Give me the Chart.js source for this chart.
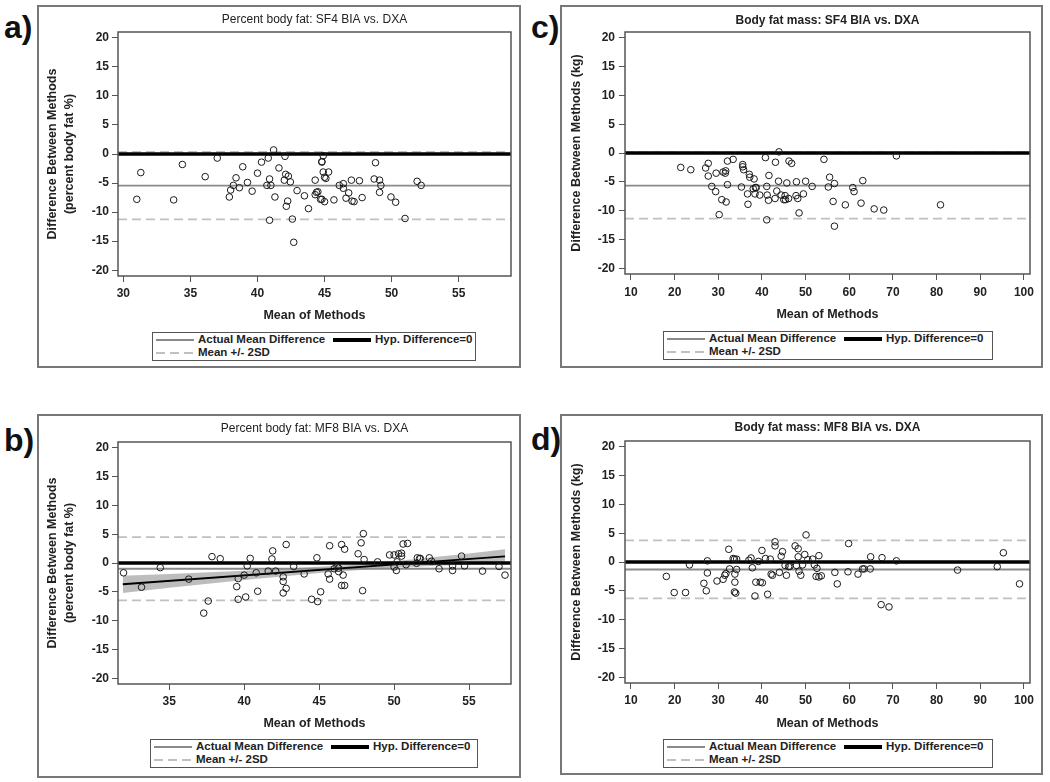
<!DOCTYPE html>
<html>
<head>
<meta charset="utf-8">
<script src="https://cdn.jsdelivr.net/npm/chart.js@4.4.1/dist/chart.umd.min.js"></script>
<style>
  body { margin: 0; background: #fff; }
  #page { position: relative; width: 1050px; height: 782px; overflow: hidden; background: #fff; }
  .frame { position: absolute; border: 2px solid #777; box-sizing: border-box; }
  .tag { position: absolute; font: bold 32px/32px "Liberation Sans Narrow", "Liberation Sans", Arial, sans-serif; color: #111; }
  canvas { position: absolute; }
  .legend { position: absolute; border: 1.5px solid #555; box-sizing: border-box; height: 29px;
            font: bold 11.5px "Liberation Sans", Arial, sans-serif; color: #222; }
  .legend .s { position: absolute; width: 38px; }
  .legend .t { position: absolute; line-height: 13px; white-space: nowrap; }
  .s.mean { height: 2px; background: #8a8a8a; }
  .s.zero { height: 3.5px; background: #000; }
  .s.sd { height: 2px; background: repeating-linear-gradient(to right, #c0c0c0 0 9px, transparent 9px 14px); }
</style>
</head>
<body>
<div id="page">
  <div class="frame" style="left:37px;top:5px;width:484px;height:363px;"></div>
  <div class="frame" style="left:37px;top:414px;width:484px;height:364px;"></div>
  <div class="frame" style="left:560px;top:5px;width:483px;height:363px;"></div>
  <div class="frame" style="left:560px;top:414px;width:483px;height:361px;"></div>

  <div class="tag" style="left:4px;top:11px;">a)</div>
  <div class="tag" style="left:4px;top:424px;">b)</div>
  <div class="tag" style="left:531px;top:11px;">c)</div>
  <div class="tag" style="left:531px;top:423px;">d)</div>

  <canvas id="chartA" width="480" height="320" style="left:39px;top:7px;"></canvas>
  <canvas id="chartB" width="480" height="320" style="left:39px;top:416px;"></canvas>
  <canvas id="chartC" width="479" height="320" style="left:562px;top:7px;"></canvas>
  <canvas id="chartD" width="479" height="320" style="left:562px;top:416px;"></canvas>
</div>

<script>
// ---- data ----
// a) Percent body fat: SF4 BIA vs. DXA
const pbfSf4Mean = [31.0, 31.3, 33.75, 34.4, 36.1, 37.0, 37.9, 38.0, 38.2, 38.4,
  38.65, 38.9, 39.25, 39.6, 40.0, 40.3, 40.7, 40.8, 40.9, 40.9,
  41.0, 41.2, 41.3, 41.6, 42.0, 42.05, 42.1, 42.15, 42.25, 42.3,
  42.45, 42.6, 42.7, 42.95, 43.5, 43.8, 44.3, 44.3, 44.4, 44.5,
  44.7, 44.8, 44.8, 44.9, 44.8, 44.9, 45.0, 45.0, 45.1, 45.3,
  45.7, 46.1, 46.4, 46.4, 46.6, 46.8, 47.0, 47.05, 47.2, 47.6,
  47.8, 48.7, 48.8, 49.1, 49.2, 49.1, 49.95, 50.3, 51.0, 51.9, 52.2];
const pbfSf4Diff = [-7.8, -3.2, -7.9, -1.8, -3.9, -0.7, -7.4, -6.2, -5.4, -4.1,
  -5.8, -2.2, -4.9, -6.4, -3.3, -1.4, -5.4, -0.7, -11.4, -4.3,
  -5.4, 0.7, -7.4, -2.4, -4.5, -0.4, -3.5, -9.0, -8.1, -3.8,
  -4.8, -11.2, -15.2, -6.3, -7.2, -9.4, -4.5, -7.0, -6.6, -6.5,
  -7.8, -1.4, -1.3, -0.3, -7.8, -3.1, -8.2, -4.0, -4.2, -3.1,
  -7.9, -5.4, -5.1, -5.9, -7.6, -6.7, -4.5, -8.1, -8.2, -4.6,
  -7.5, -4.3, -1.5, -4.5, -5.4, -6.6, -7.4, -8.3, -11.1, -4.7, -5.4];
const pbfSf4Limits = [-5.45, 0.35, -11.25]; // mean, +2SD, -2SD

// b) Percent body fat: MF8 BIA vs. DXA
const pbfMf8Mean = [31.95, 33.15, 34.4, 36.3, 37.3, 37.6, 37.85, 38.4, 39.5, 39.6,
  39.6, 40.0, 40.1, 40.2, 40.4, 40.8, 40.9, 41.6, 41.85, 41.9,
  42.1, 42.6, 42.6, 42.6, 42.8, 42.8, 43.3, 44.0, 44.5, 44.85,
  44.9, 45.1, 45.6, 45.7, 45.7, 46.0, 46.2, 46.3, 46.3, 46.5,
  46.5, 46.6, 46.7, 46.7, 47.6, 47.8, 47.9, 47.95, 48.0, 48.9,
  49.7, 50.0, 50.0, 50.15, 50.2, 50.3, 50.5, 50.5, 50.6, 50.9,
  50.8, 51.5, 51.55, 51.7, 51.75, 52.35, 52.5, 53.0, 53.9, 53.9,
  54.5, 54.7, 55.9, 57.0, 57.4];
const pbfMf8Diff = [-1.7, -4.2, -0.8, -2.8, -8.7, -6.6, 1.1, 0.75, -4.1, -2.7,
  -6.3, -2.1, -5.9, -0.5, 0.8, -1.7, -4.9, -1.4, 0.7, 2.1,
  -1.4, -2.4, -3.2, -5.2, -4.4, 3.2, -0.6, -1.9, -6.3, 0.9,
  -6.7, -5.0, -1.9, -2.8, 3.0, -1.0, -0.6, -0.9, -1.5, 3.2,
  -3.9, -2.1, 2.4, -3.9, 1.6, 3.5, -4.8, 5.1, 0.6, 0.2,
  1.4, 1.4, -0.7, -1.3, 0.2, 1.6, 1.7, 1.2, 3.3, 3.4,
  -0.3, -0.05, 0.9, 0.75, 0.8, 0.9, 0.3, -1.0, -1.3, -0.5,
  1.2, -0.5, -1.4, -0.6, -2.1];
const pbfMf8Limits = [-1.0, 4.5, -6.5];
// regression line and its confidence band (panel b only)
const pbfMf8FitX = [31.9, 57.4];
const pbfMf8FitY = [-3.7, 1.15];
const pbfMf8BandX = [31.9, 35, 40, 45, 47.5, 50, 55, 57.4];
const pbfMf8BandUpper = [-2.2, -1.9, -1.35, -0.65, -0.25, 0.3, 1.65, 2.4];
const pbfMf8BandLower = [-5.2, -4.3, -2.95, -1.75, -1.25, -0.8, -0.25, -0.1];

// c) Body fat mass: SF4 BIA vs. DXA
const fmSf4Mean = [21.4, 23.7, 27.1, 27.7, 27.7, 28.5, 29.4, 29.5, 30.2, 30.8,
  31.1, 31.7, 31.6, 31.8, 32.1, 32.1, 33.4, 35.3, 35.6, 35.6,
  35.8, 36.7, 36.8, 37.1, 37.2, 38.0, 38.2, 38.4, 38.5, 38.7,
  39.5, 40.8, 41.1, 41.2, 41.1, 41.5, 41.6, 43.1, 43.0, 43.4,
  43.8, 43.9, 44.4, 45.0, 45.3, 45.4, 45.7, 46.1, 46.2, 46.8,
  47.8, 47.9, 48.2, 48.5, 49.5, 50.0, 51.5, 54.2, 55.2, 55.5,
  56.3, 56.6, 56.6, 59.1, 60.8, 61.1, 62.7, 63.1, 65.7, 67.9, 70.8, 80.9];
const fmSf4Diff = [-2.5, -2.9, -2.6, -1.8, -4.0, -5.8, -6.7, -3.5, -10.7, -8.1,
  -3.3, -3.1, -3.5, -8.5, -5.5, -1.4, -1.1, -5.9, -2.0, -2.4,
  -2.9, -7.1, -8.9, -3.7, -4.2, -6.2, -4.5, -7.1, -6.0, -6.0,
  -7.3, -0.8, -5.8, -7.3, -11.6, -8.2, -3.9, -1.6, -7.9, -6.6,
  -4.9, 0.2, -7.3, -8.1, -7.4, -8.1, -5.2, -7.9, -1.4, -1.8,
  -7.4, -5.0, -7.9, -10.4, -7.1, -4.9, -5.8, -1.1, -5.9, -4.2,
  -8.4, -5.3, -12.7, -9.0, -6.0, -6.7, -8.7, -4.8, -9.7, -9.9, -0.5, -9.0];
const fmSf4Limits = [-5.65, 0.1, -11.4];

// d) Body fat mass: MF8 BIA vs. DXA
const fmMf8Mean = [18.1, 19.9, 22.5, 23.4, 26.7, 27.25, 27.5, 27.5, 29.7, 31.1,
  31.5, 31.75, 32.4, 32.6, 33.4, 33.7, 33.7, 33.8, 33.8, 34.0,
  34.2, 34.2, 37.0, 37.5, 37.8, 38.4, 38.6, 39.2, 39.6, 40.1,
  40.0, 40.8, 41.3, 41.9, 42.1, 42.4, 43.0, 43.0, 44.0, 44.4,
  44.7, 45.3, 45.6, 46.1, 46.4, 47.6, 47.9, 48.3, 48.3, 48.5,
  48.9, 49.3, 49.8, 50.1, 50.5, 51.6, 52.0, 52.4, 52.6, 53.05,
  53.05, 53.6, 56.7, 57.25, 59.7, 59.85, 62.0, 63.05, 63.4, 64.8,
  64.9, 67.5, 67.3, 69.1, 70.8, 84.8, 93.9, 95.3, 99.0];
const fmMf8Diff = [-2.5, -5.3, -5.3, -0.5, -3.7, -5.0, 0.2, -1.9, -3.3, -3.0,
  -2.3, -2.0, 2.2, -1.2, 0.6, 0.5, -5.2, -2.1, -3.5, -5.4,
  0.5, -1.3, 0.3, 0.7, -1.0, -5.9, -3.5, 0.1, -3.5, -3.6,
  2.0, 0.6, -5.6, 0.5, -2.1, -2.3, 2.8, 3.5, -1.8, 1.0,
  1.8, -0.6, -2.3, -0.8, -0.75, 2.8, -0.6, 2.3, 0.9, -1.6,
  -2.3, -0.5, 1.3, 4.7, 0.4, 0.5, -0.5, -2.5, -1.1, 1.1,
  -2.6, -2.4, -1.8, -3.8, -1.7, 3.2, -2.1, -1.2, -1.2, -1.2,
  0.9, 0.75, -7.4, -7.8, 0.2, -1.4, -0.8, 1.6, -3.8];
const fmMf8Limits = [-1.3, 3.76, -6.3];

const hypDifference = 0;
const yTicks = [-20, -15, -10, -5, 0, 5, 10, 15, 20];
const pbfSf4XTicks = [30, 35, 40, 45, 50, 55];
const pbfMf8XTicks = [35, 40, 45, 50, 55];
const fmXTicks = [10, 20, 30, 40, 50, 60, 70, 80, 90, 100];

const legendLabels = ['Actual Mean Difference', 'Hyp. Difference=0', 'Mean +/- 2SD'];
const xTitle = 'Mean of Methods';
const yTitlePbf = ['Difference Between Methods', '(percent body fat %)'];
const yTitleFm = 'Difference Between Methods (kg)';

// ---- drawing ----
const FONT = '"Liberation Sans", Arial, sans-serif';

const plotFrame = {
  id: 'plotFrame',
  afterDatasetsDraw(chart) {
    const a = chart.chartArea;
    const ctx = chart.ctx;
    ctx.save();
    ctx.strokeStyle = '#555';
    ctx.lineWidth = 1.5;
    ctx.strokeRect(a.left, a.top, a.right - a.left, a.bottom - a.top);
    ctx.restore();
  }
};

function pts(xs, ys) {
  return xs.map(function(x, i) { return {x: x, y: ys[i]}; });
}

function refLine(p, v, color, width, dash, order) {
  return {
    type: 'line', data: [{x: p.xMin, y: v}, {x: p.xMax, y: v}],
    borderColor: color, borderWidth: width, borderDash: dash,
    pointRadius: 0, fill: false, order: order
  };
}

function makePanel(p) {
  var datasets = [];
  datasets.push({
    type: 'scatter', data: pts(p.xs, p.ys),
    pointStyle: 'circle', pointRadius: 3.3, pointBorderWidth: 1,
    borderColor: '#1a1a1a', backgroundColor: 'rgba(0,0,0,0)', order: 0
  });
  datasets.push(refLine(p, hypDifference, '#000', 3.5, [], 1));
  datasets.push(refLine(p, p.limits[0], '#8a8a8a', 1.8, [], 2));
  datasets.push(refLine(p, p.limits[1], '#c0c0c0', 1.8, [9, 5], 3));
  datasets.push(refLine(p, p.limits[2], '#c0c0c0', 1.8, [9, 5], 3));
  if (p.fitX) {
    datasets.push({ type: 'line', data: pts(p.fitX, p.fitY), borderColor: '#000',
      borderWidth: 2, pointRadius: 0, fill: false, order: 1 });
    datasets.push({ type: 'line', data: pts(p.bandX, p.bandUpper), borderColor: 'rgba(0,0,0,0)',
      borderWidth: 0, pointRadius: 0, fill: false, order: 6 });
    datasets.push({ type: 'line', data: pts(p.bandX, p.bandLower), borderColor: 'rgba(0,0,0,0)',
      borderWidth: 0, pointRadius: 0, fill: '-1', backgroundColor: 'rgba(135,135,135,0.55)', order: 6 });
  }

  new Chart(document.getElementById(p.id), {
    type: 'scatter',
    data: { datasets: datasets },
    plugins: [plotFrame],
    options: {
      responsive: false,
      animation: false,
      events: [],
      layout: { padding: { left: 0, right: p.padRight, top: 0, bottom: 0 } },
      plugins: {
        legend: { display: false },
        tooltip: { enabled: false },
        title: {
          display: true, text: p.title, fullSize: false, color: '#222',
          font: { family: FONT, size: 12, weight: p.titleBold ? 'bold' : 'normal' },
          padding: { top: p.titlePad[0], bottom: p.titlePad[1] }
        }
      },
      scales: {
        x: {
          type: 'linear', min: p.xMin, max: p.xMax,
          afterBuildTicks: function(s) { s.ticks = p.xTicks.map(function(v) { return {value: v}; }); },
          afterFit: function(s) { s.height = p.xHeight; },
          border: { display: false },
          grid: { drawOnChartArea: false, drawTicks: true, tickLength: 6, color: '#555' },
          ticks: { color: '#222', padding: p.xTickPad, maxRotation: 0, autoSkip: false,
                   font: { family: FONT, size: 12, weight: 'bold' } },
          title: { display: true, text: xTitle, color: '#222',
                   font: { family: FONT, size: 12.5, weight: 'bold' },
                   padding: { top: 0, bottom: p.xTitlePad } }
        },
        y: {
          type: 'linear', min: -21, max: 21,
          afterBuildTicks: function(s) { s.ticks = yTicks.map(function(v) { return {value: v}; }); },
          afterFit: function(s) { s.width = p.yWidth; },
          border: { display: false },
          grid: { drawOnChartArea: false, drawTicks: true, tickLength: 6, color: '#555' },
          ticks: { color: '#222', padding: p.yTickPad,
                   font: { family: FONT, size: 12, weight: 'bold' } },
          title: { display: true, text: p.yTitle, color: '#222',
                   font: { family: FONT, size: 12.5, weight: 'bold', lineHeight: 1.36 },
                   padding: { top: p.yTitlePad, bottom: 0 } }
        }
      }
    }
  });
}

function makeLegend(left, top, width) {
  var box = document.createElement('div');
  box.className = 'legend';
  box.style.left = left + 'px';
  box.style.top = top + 'px';
  box.style.width = width + 'px';
  box.innerHTML =
    '<div class="s mean" style="left:3px;top:6px;"></div>' +
    '<div class="t" style="left:45px;top:0px;">' + legendLabels[0] + '</div>' +
    '<div class="s zero" style="left:180px;top:5px;"></div>' +
    '<div class="t" style="left:222px;top:0px;">' + legendLabels[1] + '</div>' +
    '<div class="s sd" style="left:3px;top:19px;"></div>' +
    '<div class="t" style="left:45px;top:13px;">' + legendLabels[2] + '</div>';
  document.getElementById('page').appendChild(box);
}

makePanel({ id: 'chartA', title: 'Percent body fat: SF4 BIA vs. DXA', titleBold: false,
  xs: pbfSf4Mean, ys: pbfSf4Diff, limits: pbfSf4Limits,
  xMin: 29.6, xMax: 58.9, xTicks: pbfSf4XTicks, yTitle: yTitlePbf,
  padRight: 8, yWidth: 79, xHeight: 51, titlePad: [5.8, 4.8],
  xTickPad: 4.8, xTitlePad: 3.5, yTitlePad: 5.5, yTickPad: 3 });

makePanel({ id: 'chartB', title: 'Percent body fat: MF8 BIA vs. DXA', titleBold: false,
  xs: pbfMf8Mean, ys: pbfMf8Diff, limits: pbfMf8Limits,
  fitX: pbfMf8FitX, fitY: pbfMf8FitY, bandX: pbfMf8BandX,
  bandUpper: pbfMf8BandUpper, bandLower: pbfMf8BandLower,
  xMin: 31.58, xMax: 57.8, xTicks: pbfMf8XTicks, yTitle: yTitlePbf,
  padRight: 8, yWidth: 79, xHeight: 52, titlePad: [5.8, 5.8],
  xTickPad: 4.5, xTitlePad: 4.8, yTitlePad: 5.5, yTickPad: 3 });

makePanel({ id: 'chartC', title: 'Body fat mass: SF4 BIA vs. DXA', titleBold: true,
  xs: fmSf4Mean, ys: fmSf4Diff, limits: fmSf4Limits,
  xMin: 8.63, xMax: 101.4, xTicks: fmXTicks, yTitle: yTitleFm,
  padRight: 11, yWidth: 63, xHeight: 53, titlePad: [6.5, 4.1],
  xTickPad: 5.8, xTitlePad: 4.5, yTitlePad: 6.5, yTickPad: 4 });

makePanel({ id: 'chartD', title: 'Body fat mass: MF8 BIA vs. DXA', titleBold: true,
  xs: fmMf8Mean, ys: fmMf8Diff, limits: fmMf8Limits,
  xMin: 8.63, xMax: 101.4, xTicks: fmXTicks, yTitle: yTitleFm,
  padRight: 11, yWidth: 63, xHeight: 53, titlePad: [4.8, 5.8],
  xTickPad: 4.8, xTitlePad: 5.2, yTitlePad: 6.5, yTickPad: 4 });

makeLegend(152, 332, 324);
makeLegend(150, 739, 328);
makeLegend(663, 331, 330);
makeLegend(663, 739, 330);
</script>
</body>
</html>
